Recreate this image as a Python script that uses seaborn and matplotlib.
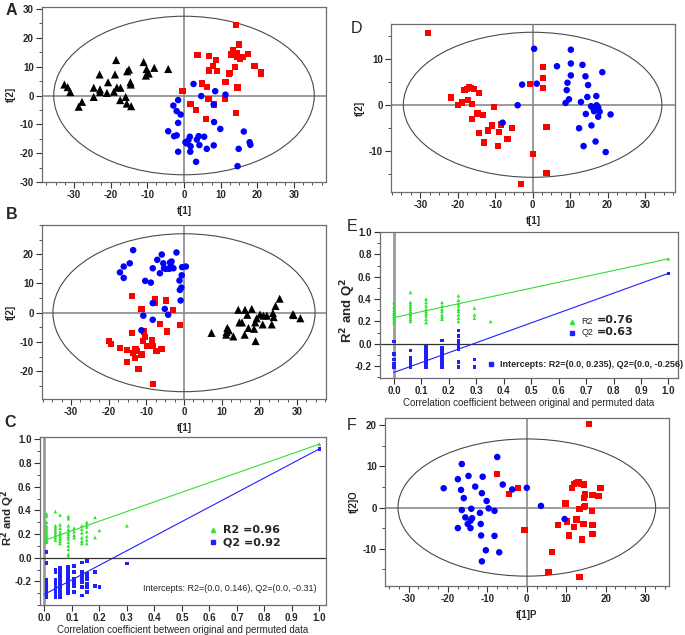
import numpy as np
import pandas as pd
import matplotlib
matplotlib.use("Agg")
import matplotlib.pyplot as plt
from matplotlib.patches import Ellipse
from matplotlib.ticker import AutoMinorLocator
import seaborn as sns

sns.set_style("white")
plt.rcParams['font.family'] = ['Liberation Sans', 'DejaVu Sans']
plt.rcParams['axes.unicode_minus'] = False

# ---------------- Panel A ----------------
a_tri_x = [-32.6, -31.7, -31.0, -28.7, -27.8, -24.6, -24.6, -22.9, -22.9, -21.0, -23.0, -20.7, -19.1, -18.3, -18.5, -18.8,
           -17.4, -17.3, -15.9, -15.6, -15.5, -15.0, -14.6, -14.5, -14.4, -11.0, -10.2, -10.4, -9.6, -8.1, -4.3]
a_tri_y = [3.8, 2.9, 1.2, -3.9, -2.2, 2.7, -0.5, 2.1, 1.2, 0.9, 7.3, 4.6, 1.3, 2.8, 12.3, 7.3,
           -1.6, 2.7, -0.5, -2.8, 8.4, 9.0, 4.6, 3.8, -3.7, 11.6, 9.2, 6.9, 7.6, 9.6, 9.2]
a_sq_x = [14.2, 15.0, 13.4, 12.8, 13.5, 14.5, 14.6, 15.2, 16.1, 17.4, 19.2, 21.0, 21.0, 14.0, 12.6, 11.3, 14.6,
          11.2, 14.1, 6.7, 8.1, 5.9, 1.8, 3.3, 4.8, 6.2, -0.4, 3.7, 6.9, 6.8, 7.9, 8.8, 9.0, 12.3]
a_sq_y = [24.4, 17.7, 15.6, 14.2, 14.0, 14.6, 13.4, 12.7, 13.4, 14.5, 10.2, 8.1, 7.6, 9.8, 7.9, 4.7, 2.8,
          -1.2, -6.0, -1.2, -3.1, -8.1, -2.9, -4.9, 4.2, 2.9, 1.7, 14.0, 13.6, 8.7, 10.2, 12.3, 8.4, 7.6]
a_ci_x = [2.6, 4.7, 8.5, 8.1, 11.3, -1.6, -2.9, -2.0, -0.9, -1.6, -4.3, -2.7, -2.0, 0.4, 0.7, 1.2, 1.6,
          1.8, 4.0, 3.5, 4.2, 5.5, 6.2, 8.1, 8.2, 9.9, -1.6, 1.7, 3.3, 14.9, 16.3, 17.9, 18.1, 14.6]
a_ci_y = [4.0, -0.2, 1.5, -3.1, 0.3, -1.6, -3.5, -5.4, -6.6, -9.5, -12.4, -14.1, -13.8, -16.2, -16.6, -15.5, -14.3,
          -17.6, -14.1, -15.3, -17.2, -14.3, -18.5, -17.3, -9.2, -11.6, -19.5, -19.5, -23.0, -18.5, -12.5, -16.2, -17.1, -24.5]

# ---------------- Panel B ----------------
b_ci_x = [-13.5, -14.4, -16.0, -17.0, -16.0, -10.3, -8.8, -8.3, -7.1, -5.9, -6.4, -5.5, -5.3, -4.8, -3.9, -3.7, -3.5,
          -3.3, -2.8, -2.0, -1.2, -1.1, -0.7, -0.5, 0.5, -0.6, -0.9, -5.1, -4.2, -8.3, -8.3, -10.8, -11.3]
b_ci_y = [21.4, 16.9, 15.8, 13.8, 11.9, 10.9, 10.3, 15.2, 18.1, 19.9, 13.5, 16.9, 15.2, 15.0, 15.0, 17.2, 16.1,
          17.5, 15.2, 20.6, 11.0, 7.8, 8.6, 15.6, 15.8, 12.8, 4.2, 1.3, -0.7, 3.3, -2.4, -1.0, -6.0]
b_sq_x = [-13.8, -11.3, -7.7, -7.6, -4.8, -3.0, -1.1, -6.4, -4.6, -13.9, -10.6, -10.3, -8.6, -8.2, -7.3, -6.0, -9.9,
          -11.3, -12.9, -13.5, -12.4, -13.1, -15.1, -17.0, -20.0, -19.4, -12.1, -8.2, -15.2, -10.8]
b_sq_y = [5.6, 1.3, 4.7, 3.3, 4.2, 0.8, -4.1, -3.9, -6.4, -6.9, -6.4, -8.4, -9.2, -11.3, -13.0, -12.4, -11.5,
          -14.3, -12.6, -13.8, -13.0, -15.5, -16.9, -12.0, -9.8, -10.7, -19.2, -24.4, -12.8, -9.8]
b_tri_x = [7.3, 11.5, 11.9, 11.3, 11.2, 13.1, 14.4, 16.2, 18.0, 16.8, 14.7, 15.4, 17.1, 16.1, 18.9, 18.6, 19.0,
           19.3, 20.2, 21.1, 22.0, 23.3, 23.6, 23.8, 24.3, 25.4, 28.9, 29.1, 30.9, 20.9]
b_tri_y = [-6.9, -5.2, -6.0, -6.6, -7.5, -8.1, 1.0, 1.0, 1.3, -0.7, -3.3, -3.3, -5.2, -7.5, -3.3, -5.5, -9.7,
           -1.9, -0.6, -1.0, -1.0, -4.0, -0.1, -1.5, 2.3, 4.8, -0.5, -0.8, -1.9, -4.0]

# ---------------- Panel C (permutation test) ----------------
c_r2_x = [0.008] * 12 + [0.04] * 8 + [0.057] * 9 + [0.087] * 13 + [0.108] * 4 + [0.136] * 6 + [0.154] * 7 + [0.184] * 2 + [0.2, 0.3, 1.0]
c_r2_y = [0.37, 0.35, 0.30, 0.27, 0.25, 0.23, 0.21, 0.19, 0.17, 0.15, 0.13, 0.14,
          0.39, 0.27, 0.25, 0.23, 0.21, 0.19, 0.17, 0.15,
          0.36, 0.28, 0.25, 0.22, 0.20, 0.18, 0.16, 0.14, 0.12,
          0.35, 0.33, 0.27, 0.24, 0.22, 0.20, 0.18, 0.16, 0.13, 0.10, 0.07, 0.03, 0.01,
          0.25, 0.22, 0.19, 0.17,
          0.27, 0.24, 0.21, 0.17, 0.14, 0.12,
          0.30, 0.28, 0.26, 0.22, 0.18, 0.15, 0.12,
          0.34, 0.17,
          0.23, 0.27, 0.96]
c_q2_x = [0.008] * 11 + [0.04] * 9 + [0.057] * 11 + [0.087] * 12 + [0.108] * 6 + [0.136] * 7 + [0.154] * 7 + [0.184] * 2 + [0.2, 0.3, 1.0]
c_q2_y = [0.05, -0.04, -0.05, -0.19, -0.21, -0.23, -0.25, -0.27, -0.29, -0.31, -0.33,
          -0.10, -0.12, -0.19, -0.22, -0.24, -0.26, -0.28, -0.30, -0.33,
          -0.09, -0.12, -0.15, -0.18, -0.21, -0.23, -0.25, -0.27, -0.29, -0.31, -0.33,
          -0.08, -0.10, -0.12, -0.14, -0.16, -0.18, -0.20, -0.22, -0.24, -0.26, -0.28, -0.30,
          -0.07, -0.12, -0.18, -0.21, -0.24, -0.29,
          -0.04, -0.12, -0.15, -0.18, -0.21, -0.25, -0.32,
          -0.03, -0.14, -0.16, -0.18, -0.22, -0.25, -0.29,
          -0.12, -0.24,
          -0.25, -0.05, 0.92]
c_r2_line_y = [0.146, 0.96]
c_q2_line_y = [-0.31, 0.92]
line_x = [0.0, 1.0]

# ---------------- Panel D ----------------
d_sq_x = [-28.0, -21.8, -20.0, -18.8, -18.2, -17.6, -17.2, -17.0, -16.4, -16.1, -15.6, -16.1, -14.9, -14.5, -14.3, -14.3,
          -13.2, -12.9, -12.0, -10.9, -10.4, -9.3, -9.0, -8.4, -6.7, -5.6, -0.7, 2.8, 2.8, 2.8, 3.7, 0.2, 3.7, -3.2]
d_sq_y = [15.7, 1.6, 0.0, 0.5, 3.2, 3.5, 1.0, 3.8, 3.7, 0.1, 3.5, -3.1, -1.9, -1.9, 2.5, -6.1,
          -2.2, -8.2, -5.6, -4.5, -0.4, -9.0, -6.0, -4.3, -7.5, -5.0, 4.5, 8.3, 5.9, 3.7, -4.8, -10.7, -14.8, -17.2]
d_ci_x = [0.4, -2.8, 1.1, -4.0, -8.0, 6.5, 10.2, 10.2, 10.2, 9.3, 9.1, 9.7, 8.8, 13.3, 14.1, 14.8, 14.6,
          12.9, 17.0, 17.1, 15.6, 16.2, 16.4, 17.5, 17.9, 17.5, 14.2, 15.7, 12.4, 13.6, 16.8, 18.6, 20.8, 19.5]
d_ci_y = [12.2, 4.4, 4.6, -0.1, -3.9, 8.4, 12.0, 9.0, 6.4, 4.8, 3.2, 1.2, 0.4, 8.7, 6.2, 4.3, 1.7,
          0.6, 1.9, -0.1, -0.3, -0.8, -1.4, -0.6, -1.5, -2.6, -2.0, -4.5, -5.1, -9.0, -8.0, 7.1, -2.1, -10.3]

# ---------------- Panel E (permutation test) ----------------
e_r2_x = [0.0] * 9 + [0.06] * 11 + [0.117] * 9 + [0.175] * 7 + [0.235] * 9 + [0.293] * 3 + [0.352, 1.0]
e_r2_y = [0.37, 0.33, 0.30, 0.28, 0.27, 0.25, 0.23, 0.21, 0.19,
          0.46, 0.37, 0.35, 0.33, 0.31, 0.29, 0.27, 0.26, 0.24, 0.22, 0.20,
          0.40, 0.37, 0.34, 0.31, 0.29, 0.27, 0.25, 0.22, 0.19,
          0.37, 0.34, 0.31, 0.29, 0.26, 0.24, 0.22,
          0.43, 0.39, 0.36, 0.34, 0.31, 0.29, 0.26, 0.23, 0.20,
          0.32, 0.26, 0.23,
          0.20, 0.76]
e_q2_x = [0.0] * 5 + [0.06] * 6 + [0.117] * 10 + [0.175] * 10 + [0.235] * 8 + [0.293] * 2 + [1.0]
e_q2_y = [0.02, -0.09, -0.14, -0.18, -0.21,
          -0.06, -0.13, -0.15, -0.17, -0.19, -0.21,
          -0.03, -0.05, -0.07, -0.09, -0.11, -0.13, -0.15, -0.17, -0.19, -0.21,
          0.03, -0.04, -0.07, -0.09, -0.11, -0.13, -0.15, -0.17, -0.19, -0.21,
          0.12, 0.07, 0.03, 0.01, -0.03, -0.05, -0.16, -0.21,
          -0.14, -0.21,
          0.63]
e_r2_line_y = [0.235, 0.76]
e_q2_line_y = [-0.256, 0.63]

# ---------------- Panel F ----------------
f_ci_x = [-21.1, -16.5, -17.5, -16.7, -16.0, -14.8, -13.1, -11.2, -11.4, -10.2, -9.7, -14.1, -16.5, -15.6, -15.0, -14.3, -13.9,
          -14.3, -17.5, -11.9, -8.2, -11.7, -11.6, -8.2, -10.4, -11.4, -7.0, -7.5, -6.1, -3.7, 0.0, 3.6, 9.6]
f_ci_y = [4.7, 10.6, 6.9, 4.3, 2.3, 7.7, 5.1, 7.5, 3.5, 1.6, -0.2, -0.3, -0.6, -2.4, -4.0, -3.2, -2.6,
          -5.0, -5.0, -1.3, -0.8, -4.0, -6.8, -6.9, -10.4, -13.1, -10.9, 12.3, 5.6, 4.4, 4.8, 0.4, -2.8]
f_sq_x = [-7.6, -4.6, -2.3, -0.6, 6.3, 5.5, 13.4, 9.8, 8.0, 10.3, 10.7, 11.9, 12.6, 11.4, 11.9, 12.6, 13.1, 13.8, 14.5,
          14.5, 14.8, 13.4, 14.5, 14.8, 16.5, 16.7, 18.2, 18.7, 14.4, 16.7, 16.7, 14.0, 15.8]
f_sq_y = [8.1, 3.3, 4.7, -5.4, -10.9, -15.6, -16.9, 1.0, -4.2, -3.4, -6.8, -4.7, -2.9, 4.7, 5.7, 6.0, 6.1, 5.8, 5.6,
          2.4, 3.2, -0.3, 0.2, 0.4, -0.8, 3.1, 2.8, 4.7, -4.0, -4.3, -6.4, -7.8, 20.3]

RED = "#ff0000"
BLUE = "#0000ff"
BLACK = "#000000"
GREEN = "#33e033"
QBLUE = "#2020ff"
FRAME = "#6e6e6e"

fig = plt.figure(figsize=(6.85, 6.35), dpi=100)


def ax_at(l, t, r, b):
    return fig.add_axes([l / 685, 1 - b / 635, (r - l) / 685, (b - t) / 635])


def style_axes(ax, tick_fs=7):
    for s in ax.spines.values():
        s.set_color(FRAME)
        s.set_linewidth(0.9)
    ax.tick_params(axis="both", which="major", direction="out", length=4, width=0.8,
                   color="#333333", labelsize=tick_fs, pad=2, bottom=True, left=True)
    ax.tick_params(axis="both", which="minor", direction="out", length=2, width=0.6,
                   color="#333333", bottom=True, left=True)
    for lab in ax.get_xticklabels() + ax.get_yticklabels():
        lab.set_fontweight("bold")


def score_panel(ax, groups, xlim, ylim, xticks, yticks, ell_w, ell_h, xlabel, ylabel):
    ax.axhline(0, color="#8a8a8a", lw=1.2, zorder=1)
    ax.axvline(0, color="#8a8a8a", lw=1.2, zorder=1)
    ax.add_patch(Ellipse((0, 0), 2 * ell_w, 2 * ell_h, fill=False, ec="#4a4a4a", lw=0.8, zorder=1))
    for gx, gy, color, marker, size in groups:
        df = pd.DataFrame({"x": gx, "y": gy})
        sns.scatterplot(data=df, x="x", y="y", color=color, marker=marker, s=size,
                        edgecolor="none", linewidth=0, ax=ax, legend=False, zorder=3)
    ax.set_xlim(*xlim)
    ax.set_ylim(*ylim)
    ax.set_xticks(xticks)
    ax.set_yticks(yticks)
    ax.xaxis.set_minor_locator(AutoMinorLocator(4))
    ax.yaxis.set_minor_locator(AutoMinorLocator(2))
    ax.set_xlabel(xlabel, fontsize=7, fontweight="bold", labelpad=4)
    ax.set_ylabel(ylabel, fontsize=7, fontweight="bold", labelpad=3)
    style_axes(ax)


def perm_panel(ax, r2x, r2y, q2x, q2y, r2line, q2line, xlim, ylim, yticks, ylab_fs, ylab_pos):
    ax.axvline(0, color="#9a9a9a", lw=2.0, zorder=1)
    ax.axhline(0, color="#333333", lw=0.9, zorder=1)
    sns.lineplot(x=line_x, y=r2line, color=GREEN, lw=0.8, ax=ax, zorder=2)
    sns.lineplot(x=line_x, y=q2line, color=QBLUE, lw=0.8, ax=ax, zorder=2)
    sns.scatterplot(x=r2x, y=r2y, color=GREEN, marker="^", s=7, edgecolor="none", ax=ax, legend=False, zorder=3)
    sns.scatterplot(x=q2x, y=q2y, color=QBLUE, marker="s", s=7, edgecolor="none", ax=ax, legend=False, zorder=3)
    ax.set_xlim(*xlim)
    ax.set_ylim(*ylim)
    ax.set_xticks(np.round(np.arange(0, 1.01, 0.1), 1))
    ax.set_xticklabels([f"{v:.1f}" for v in np.arange(0, 1.01, 0.1)])
    ax.set_yticks(yticks)
    ax.set_yticklabels([f"{v:.1f}" for v in yticks])
    ax.yaxis.set_minor_locator(AutoMinorLocator(2))
    ax.set_xlabel("Correlation coefficient between original and permuted data", fontsize=7, labelpad=1)
    ax.set_ylabel("R$^\\mathbf{2}$ and Q$^\\mathbf{2}$", fontsize=ylab_fs, fontweight="bold")
    ax.yaxis.set_label_coords(*ylab_pos)
    style_axes(ax)


# Panel A
axA = ax_at(42, 7, 326, 182)
score_panel(axA, [(a_tri_x, a_tri_y, BLACK, "^", 34), (a_sq_x, a_sq_y, RED, "s", 20), (a_ci_x, a_ci_y, BLUE, "o", 22)],
            (-38.7, 38.7), (-30, 30.7), [-30, -20, -10, 0, 10, 20, 30], [-30, -20, -10, 0, 10, 20, 30],
            35.5, 27.5, "t[1]", "t[2]")

# Panel B
axB = ax_at(42, 225, 326, 399)
score_panel(axB, [(b_tri_x, b_tri_y, BLACK, "^", 34), (b_sq_x, b_sq_y, RED, "s", 20), (b_ci_x, b_ci_y, BLUE, "o", 22)],
            (-37.7, 37.7), (-29.5, 30), [-30, -20, -10, 0, 10, 20, 30], [-20, -10, 0, 10, 20],
            34.8, 27.0, "t[1]", "t[2]")

# Panel C
axC = ax_at(40, 437, 326, 605)
perm_panel(axC, c_r2_x, c_r2_y, c_q2_x, c_q2_y, c_r2_line_y, c_q2_line_y,
           (-0.016, 1.024), (-0.40, 1.02), [-0.2, 0.0, 0.2, 0.4, 0.6, 0.8, 1.0], 8.2, (-0.08, 0.52))
axC.plot([0.613], [0.236], marker="^", color=GREEN, ms=3, ls="none")
axC.plot([0.613], [0.135], marker="s", color=QBLUE, ms=3, ls="none")
axC.text(0.64, 0.446, "R2 =0.96", transform=axC.transAxes, fontsize=8, fontweight="bold",
         family=["DejaVu Sans"], va="center")
axC.text(0.64, 0.373, "Q2 =0.92", transform=axC.transAxes, fontsize=8, fontweight="bold",
         family=["DejaVu Sans"], va="center")
axC.text(0.36, 0.10, "Intercepts: R2=(0.0, 0.146), Q2=(0.0, -0.31)", transform=axC.transAxes,
         fontsize=6.5, va="center")

# Panel D
axD = ax_at(391, 24, 675, 192)
score_panel(axD, [(d_sq_x, d_sq_y, RED, "s", 20), (d_ci_x, d_ci_y, BLUE, "o", 22)],
            (-37.8, 38.0), (-19.0, 17.6), [-30, -20, -10, 0, 10, 20, 30], [-10, 0, 10],
            34.5, 15.8, "t[1]", "t[2]")

# Panel E
axE = ax_at(380, 232, 678, 378)
perm_panel(axE, e_r2_x, e_r2_y, e_q2_x, e_q2_y, e_r2_line_y, e_q2_line_y,
           (-0.051, 1.035), (-0.306, 1.0), [-0.2, 0.0, 0.2, 0.4, 0.6, 0.8, 1.0], 9.5, (-0.074, 0.466))
axE.plot([0.648], [0.198], marker="^", color=GREEN, ms=3, ls="none")
axE.plot([0.648], [0.10], marker="s", color=QBLUE, ms=3, ls="none")
axE.plot([0.352], [-0.185], marker="s", color=QBLUE, ms=3, ls="none")
axE.text(0.677, 0.39, "R2", transform=axE.transAxes, fontsize=6.5, va="center")
axE.text(0.727, 0.395, "=0.76", transform=axE.transAxes, fontsize=8, fontweight="bold",
         family=["DejaVu Sans"], va="center")
axE.text(0.677, 0.312, "Q2", transform=axE.transAxes, fontsize=6.5, va="center")
axE.text(0.727, 0.317, "=0.63", transform=axE.transAxes, fontsize=8, fontweight="bold",
         family=["DejaVu Sans"], va="center")
axE.text(0.403, 0.092, "Intercepts: R2=(0.0, 0.235), Q2=(0.0, -0.256)", transform=axE.transAxes,
         fontsize=6.5, fontweight="bold", va="center")

# Panel F
axF = ax_at(385, 418, 669, 586)
score_panel(axF, [(f_sq_x, f_sq_y, RED, "s", 20), (f_ci_x, f_ci_y, BLUE, "o", 22)],
            (-36.0, 36.1), (-19.1, 21.8), [-30, -20, -10, 0, 10, 20, 30], [-10, 0, 10, 20],
            32.7, 16.7, "t[1]P", "t[2]O")

# panel letters (x, y of top-left corner in pixels)
for letter, x, y, w in [("A", 6, 3, "bold"), ("B", 6, 207, "bold"), ("C", 4, 415, "bold"),
                        ("D", 351, 21, "normal"), ("E", 347, 219, "normal"), ("F", 347, 418, "normal")]:
    fig.text(x / 685, 1 - y / 635, letter, fontsize=11.5, fontweight=w, va="top", ha="left")

fig.savefig("out.png", dpi=100)
